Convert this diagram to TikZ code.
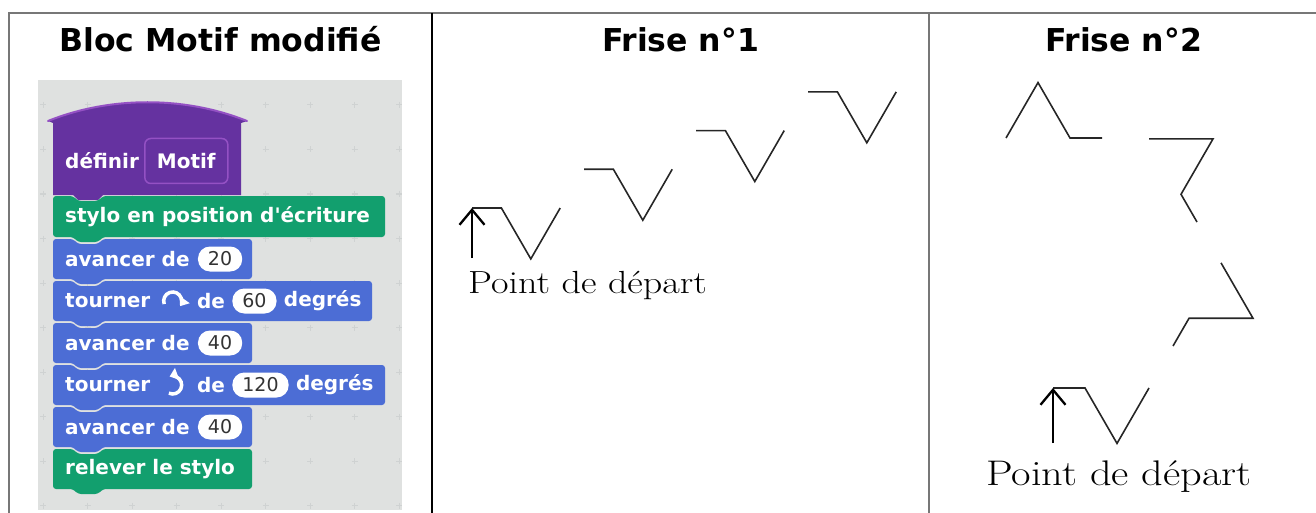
\documentclass[tikz,border=0pt]{standalone}
\usepackage{fontspec}
\newfontfamily\scratchfont{DejaVu Sans}
\usetikzlibrary{positioning,arrows.meta}

\definecolor{penGreen}{HTML}{129F6E}
\definecolor{motionBlue}{HTML}{4C6DD5}
\definecolor{morePurple}{HTML}{6532A0}
\definecolor{moreEdge}{HTML}{9451C4}
\definecolor{stageGray}{HTML}{DFE1E0}
\definecolor{crossGray}{HTML}{CFD2D2}
\definecolor{ruleGray}{HTML}{777777}

% x1, y1, x2, y2, colour
\newcommand{\scratchblock}[5]{%
  \fill[#5, rounded corners=3pt] (#1,#2) -- ({#1+20},#2) -- ({#1+25},{#2+5}) -- ({#1+45},{#2+5})
    -- ({#1+50},#2) -- (#3,#2) -- (#3,#4) -- ({#1+50},#4) -- ({#1+45},{#4+5})
    -- ({#1+25},{#4+5}) -- ({#1+20},#4) -- (#1,#4) -- cycle;}

\begin{document}
\begin{tikzpicture}[
  x=1pt, y=-1pt,
  head/.style={font=\scratchfont\bfseries\fontsize{31.5}{33}\selectfont, anchor=base, inner sep=0pt},
  blocktxt/.style={text=white, font=\scratchfont\bfseries\fontsize{20}{21}\selectfont, inner sep=0pt},
  numin/.style={fill=white, rounded corners=12pt, minimum height=25pt, inner xsep=10pt, inner ysep=0pt,
                text=black!80, font=\scratchfont\fontsize{19}{20}\selectfont},
  turnicon/.style={minimum width=28pt, minimum height=20pt, inner sep=0pt},
  protobox/.style={draw=moreEdge, line width=1.5pt, rounded corners=6pt, minimum width=83pt,
                   minimum height=45pt},
  stagecross/.style={crossGray, line width=1pt},
  tablerule/.style={ruleGray, line width=1.8pt},
  trace/.style={line width=1.6pt, black!85},
  startarrow/.style={line width=2.3pt, black, -{Straight Barb[length=15pt, width=25pt]}},
  startlabel/.style={anchor=base west, inner sep=0pt, transform shape, xscale=1.19},
  iconarc/.style={white, line width=3.5pt, -{Triangle[length=8pt, width=12pt]}},
  motif/.pic={\draw[trace] (0,0) -- ++(0:20) -- ++(60:40) -- ++(-60:40);},
]
  \useasboundingbox (0,0) rectangle (1316,513);

  % Scratch stage
  \fill[stageGray] (38,80) rectangle (402,510);
  \foreach \i in {0,...,8}
    \foreach \j in {0,...,9}
      \draw[stagecross] ({40+44.5*\i},{105+44.5*\j}) -- ++(6,0) ({43+44.5*\i},{102+44.5*\j}) -- ++(0,6);

  \fill[morePurple] (53,195) -- (53,123) -- (48,121) .. controls (110,96) and (185,96) .. (247,121)
    -- (241,123) -- (241,195) -- (103,195) -- (98,200) -- (78,200) -- (73,195) -- cycle;
  \draw[moreEdge, line width=2pt, line cap=round] (48,121) .. controls (110,96) and (185,96) .. (247,121);

  \foreach \ya/\yb/\xb/\col in {196/237/385/penGreen, 239/279/252/motionBlue, 281/321/372/motionBlue,
      323/363/252/motionBlue, 365/405/385/motionBlue, 407/447/252/motionBlue, 449/489/252/penGreen}
    \scratchblock{53}{\ya}{\xb}{\yb}{\col};

  \node[blocktxt, anchor=west] (def) at (65,161) {définir};
  \node[blocktxt, protobox, right=5pt of def] (proto) {Motif};

  \node[blocktxt, anchor=west] (pendown) at (65,216.5) {stylo en position d'écriture};

  \node[blocktxt, anchor=west] (av1) at (65,259) {avancer de};
  \node[numin, right=8pt of av1] (n20) {20};

  \node[blocktxt, anchor=west] (tn1) at (65,301) {tourner};
  \node[turnicon, right=8pt of tn1] (cw) {};
  \node[blocktxt, right=10pt of cw] (de1) {de};
  \node[numin, right=7pt of de1] (n60) {60};
  \node[blocktxt, right=7pt of n60] (deg1) {degrés};
  \draw[iconarc] (cw.center) ++(-200:9) arc[start angle=-200, end angle=35, radius=9];

  \node[blocktxt, anchor=west] (av2) at (65,343) {avancer de};
  \node[numin, right=8pt of av2] (n40a) {40};

  \node[blocktxt, anchor=west] (tn2) at (65,385) {tourner};
  \node[turnicon, right=8pt of tn2] (ccw) {};
  \node[blocktxt, right=10pt of ccw] (de2) {de};
  \node[numin, right=7pt of de2] (n120) {120};
  \node[blocktxt, right=7pt of n120] (deg2) {degrés};
  \draw[iconarc] (ccw.center) ++(115:9) arc[start angle=115, end angle=-110, radius=9];

  \node[blocktxt, anchor=west] (av3) at (65,427) {avancer de};
  \node[numin, right=8pt of av3] (n40b) {40};

  \node[blocktxt, anchor=west] (penup) at (65,469) {relever le stylo};

  % table
  \draw[tablerule] (8,13) -- (1316,13);
  \draw[tablerule] (9,13) -- (9,513);
  \draw[black, line width=2pt] (432,13) -- (432,513);
  \draw[tablerule] (929,13) -- (929,513);

  \node[head] (hbloc) at (220.5,52) {Bloc Motif modifié};
  \node[head] (hfr1) at (680.5,52) {Frise n°1};
  \node[head] (hfr2) at (1123.5,52) {Frise n°2};

  % Frise n°1
  \foreach \k in {0,...,3}
    \pic[scale=1.47] at ({472+112*\k},{208-38.7*\k}) {motif};
  \coordinate (f1start) at (472,208);
  \coordinate (f1tail) at (472,258);
  \draw[startarrow] (f1tail) -- (f1start);
  \node[startlabel, font=\fontsize{32}{34}\selectfont] (f1lbl) at (468,293) {Point de départ};

  % Frise n°2
  \foreach \sx/\sy/\rot in {1053/388/0, 1173/346/60, 1197/222/120, 1102/138/180}
    \pic[rotate=\rot, scale=1.6] at (\sx,\sy) {motif};
  \coordinate (f2start) at (1053,388);
  \coordinate (f2tail) at (1053,443);
  \draw[startarrow] (f2tail) -- (f2start);
  \node[startlabel, font=\fontsize{35.6}{37}\selectfont] (f2lbl) at (986,485) {Point de départ};
\end{tikzpicture}
\end{document}
